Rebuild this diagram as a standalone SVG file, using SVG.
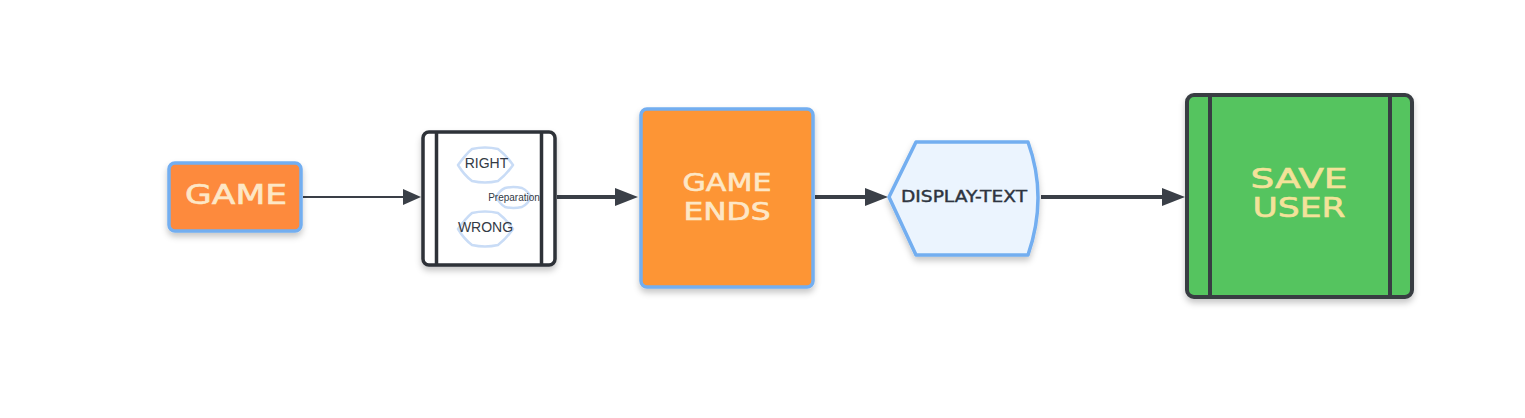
<svg xmlns="http://www.w3.org/2000/svg" width="1525" height="418" viewBox="0 0 1525 418">
<defs>
  <filter id="sh" x="-20%" y="-20%" width="140%" height="150%">
    <feDropShadow dx="0" dy="4" stdDeviation="3" flood-color="#000" flood-opacity="0.22"/>
  </filter>
  <style>
    .blue{stroke:#73aef0;stroke-width:3.5}
    .dark{stroke:#2e3238;stroke-width:3.5}
    .big{font-family:"DejaVu Sans","Liberation Sans",sans-serif;fill:#fde7c6;stroke:#fde7c6;stroke-width:0.6;text-anchor:middle}
    .small{font-family:"Liberation Sans",Arial,sans-serif;fill:#333a45;text-anchor:middle}
    .hex{fill:none;stroke:#c9dcf6;stroke-width:2.5;stroke-linejoin:round}
    .conn{stroke:#3a3f47;fill:none}
    .head{fill:#3a3f47}
  </style>
</defs>
<rect width="1525" height="418" fill="#ffffff"/>
<g id="connectors">
  <line class="conn" x1="303" y1="197" x2="405" y2="197" stroke-width="2"/>
  <path class="head" d="M403,189 L421,197 L403,205 z"/>
  <line class="conn" x1="557" y1="197" x2="618" y2="197" stroke-width="4"/>
  <path class="head" d="M615,188 L638,197 L615,206 z"/>
  <line class="conn" x1="815" y1="197" x2="868" y2="197" stroke-width="4"/>
  <path class="head" d="M865,188 L888,197 L865,206 z"/>
  <line class="conn" x1="1041" y1="197" x2="1165" y2="197" stroke-width="4"/>
  <path class="head" d="M1162,188 L1185,197 L1162,206 z"/>
</g>
<g id="game">
  <rect x="169" y="163" width="132" height="68" rx="6" fill="#fd8a3c" class="blue" filter="url(#sh)"/>
  <text class="big" x="236" y="204" font-size="27" textLength="102" lengthAdjust="spacingAndGlyphs">GAME</text>
</g>
<g id="checks">
  <rect x="423" y="132" width="132" height="133" rx="6" fill="#ffffff" class="dark" filter="url(#sh)"/>
  <line x1="436.5" y1="132" x2="436.5" y2="265" class="dark"/>
  <line x1="541.5" y1="132" x2="541.5" y2="265" class="dark"/>
  <path class="hex" d="M458,165 Q466,154 472,149 Q485,146 498,149 Q506,155 513,165 Q506,175 498,181 Q485,184 472,181 Q464,175 458,165 z"/>
  <path class="hex" d="M496,197 Q500,190 505,188 Q513,186 522,188 Q528,191 531,197 Q528,204 522,207 Q513,209 505,207 Q500,204 496,197 z"/>
  <path class="hex" d="M458,229 Q466,218 472,213 Q485,210 498,213 Q506,219 513,229 Q506,239 498,245 Q485,248 472,245 Q464,239 458,229 z"/>
  <text class="small" x="486.5" y="168" font-size="14">RIGHT</text>
  <text class="small" x="514" y="201" font-size="10">Preparation</text>
  <text class="small" x="485.5" y="232" font-size="14">WRONG</text>
</g>
<g id="game-ends">
  <rect x="641" y="109" width="172" height="178" rx="6" fill="#fd9535" class="blue" filter="url(#sh)"/>
  <text class="big" x="727" y="191" font-size="24" textLength="89" lengthAdjust="spacingAndGlyphs">GAME</text>
  <text class="big" x="727" y="220" font-size="24" textLength="87" lengthAdjust="spacingAndGlyphs">ENDS</text>
</g>
<g id="display-text">
  <path d="M889,197 L916,142 L1028,142 Q1048,197 1028,255 L916,255 z" fill="#ebf4fe" class="blue" stroke-linejoin="round" filter="url(#sh)"/>
  <text x="964" y="202" font-family="DejaVu Sans,'Liberation Sans',sans-serif" font-size="15" fill="#2e3440" stroke="#2e3440" stroke-width="0.4" text-anchor="middle" textLength="126" lengthAdjust="spacingAndGlyphs">DISPLAY-TEXT</text>
</g>
<g id="save-user">
  <rect x="1187" y="95" width="225" height="202" rx="7" fill="#54c45e" stroke="#383d43" stroke-width="4" filter="url(#sh)"/>
  <line x1="1210" y1="95" x2="1210" y2="297" stroke="#383d43" stroke-width="4"/>
  <line x1="1390" y1="95" x2="1390" y2="297" stroke="#383d43" stroke-width="4"/>
  <text class="big" x="1299" y="188" font-size="26" textLength="97" lengthAdjust="spacingAndGlyphs" style="fill:#f3e29a;stroke:#f3e29a">SAVE</text>
  <text class="big" x="1299" y="217" font-size="26" textLength="93" lengthAdjust="spacingAndGlyphs" style="fill:#f3e29a;stroke:#f3e29a">USER</text>
</g>
</svg>
